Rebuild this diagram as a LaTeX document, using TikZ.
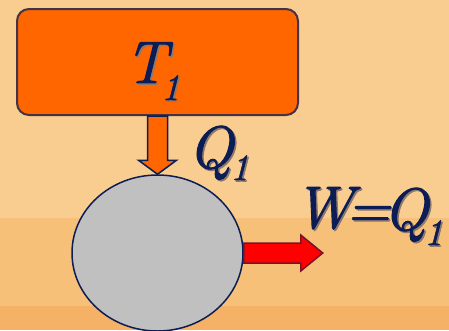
\documentclass[tikz,border=0pt]{standalone}
\usepackage{fontspec}
\newfontfamily\heavyit{Latin Modern Roman}[FakeBold=1.6]
\usetikzlibrary{calc,shapes.geometric}
\definecolor{bgA}{RGB}{248,205,143}
\definecolor{bgB}{RGB}{247,192,120}
\definecolor{bgC}{RGB}{245,178,102}
\definecolor{hotfill}{RGB}{255,102,0}
\definecolor{hotline}{RGB}{70,50,70}
\definecolor{grayfill}{RGB}{192,192,192}
\definecolor{ink}{RGB}{12,28,85}
\definecolor{shade}{RGB}{140,120,110}
\definecolor{redline}{RGB}{120,20,40}
\newcommand\shadowed[1]{\rlap{\hspace{1.5pt}\raisebox{-1.5pt}{\textcolor{shade}{#1}}}#1}
\begin{document}
\begin{tikzpicture}[x=1pt,y=-1pt,
  lbl/.style={inner sep=0pt,anchor=base west,text=ink,font=\heavyit\itshape\fontsize{60}{60}\selectfont},
  sub/.style={inner sep=0pt,anchor=base west,text=ink,font=\heavyit\itshape\fontsize{37}{37}\selectfont},
  reservoir/.style={draw=hotline,line width=2pt,fill=hotfill,rounded corners=12pt,inner sep=0pt},
  engine/.style={ellipse,draw=ink,line width=1.5pt,fill=grayfill,inner sep=0pt},
  heatarrow/.style={draw=ink,line width=1.5pt,fill=hotfill,line join=miter},
  workarrow/.style={draw=redline,line width=1.5pt,fill=red,line join=miter}]
\useasboundingbox (0,0) rectangle (449,330);
\clip (0,0) rectangle (449,330);
\fill[bgA] (0,0) rectangle (449,218);
\fill[bgB] (0,218) rectangle (449,306);
\fill[bgC] (0,306) rectangle (449,330);
\node[reservoir, minimum width=281pt, minimum height=106pt] (res) at (157.5,62) {};
\node[engine, minimum width=171pt, minimum height=156pt] (eng) at (157.5,253) {};
\coordinate (qtip) at (eng.north);
\draw[heatarrow] ($(res.south)+(-10,0)$) -- ($(res.south)+(10,0)$) -- ($(qtip)+(10,-14)$) -- ($(qtip)+(19,-14)$) -- (qtip) -- ($(qtip)+(-19,-14)$) -- ($(qtip)+(-10,-14)$) -- cycle;
\coordinate (wtip) at ($(eng.east)+(79,0)$);
\draw[workarrow] ($(eng.east)+(0,-10)$) -- ($(wtip)+(-22,-10)$) -- ($(wtip)+(-22,-18)$) -- (wtip) -- ($(wtip)+(-22,18)$) -- ($(wtip)+(-22,10)$) -- ($(eng.east)+(0,10)$) -- cycle;
\node[lbl] (t) at (125,83) {\shadowed{T}};
\node[sub] (t1) at (161,100) {\shadowed{1}};
\node[lbl] (q) at (188,168) {\shadowed{Q}};
\node[sub] (q1) at (230,180) {\shadowed{1}};
\node[lbl] (w) at (294,228) {\shadowed{W}};
\node[lbl,anchor=base] (eq) at (368,228) {\shadowed{=}};
\node[lbl] (wq) at (383,230) {\shadowed{Q}};
\node[sub] (w1) at (424,245) {\shadowed{1}};
\end{tikzpicture}
\end{document}
